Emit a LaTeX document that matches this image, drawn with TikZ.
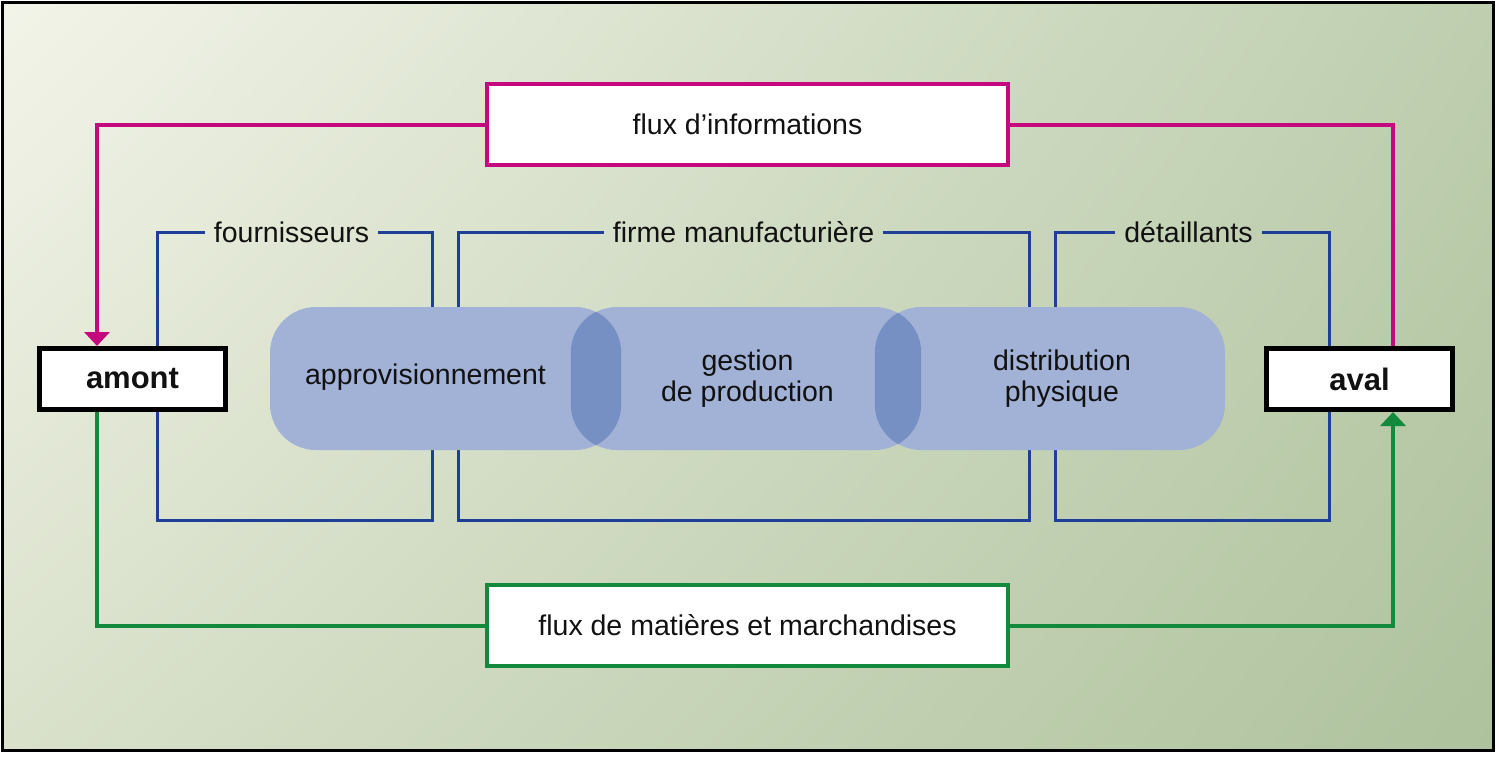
\documentclass[tikz,border=0pt]{standalone}
\usepackage{fontspec}
\setmainfont{Liberation Sans}
\usetikzlibrary{arrows.meta,shadings}
\definecolor{bgA}{HTML}{F3F4E9}
\definecolor{bgB}{HTML}{BECEAF}
\definecolor{bgC}{HTML}{D9E1CB}
\definecolor{bgD}{HTML}{AEC29D}
\definecolor{pinkL}{HTML}{C5087E}
\definecolor{blueL}{HTML}{1E3F97}
\definecolor{greenL}{HTML}{12893D}
\definecolor{lozC}{HTML}{A2B1D6}
\definecolor{lozD}{HTML}{7690C3}
\definecolor{txt}{HTML}{111111}
\newcommand{\fsz}{\fontsize{28.5}{31}\selectfont}
\tikzset{
  lbl/.style={font=\fsz, text=txt, inner xsep=9pt, inner ysep=0pt, text height=20pt, text depth=0pt},
  bline/.style={draw=blueL, line width=3pt},
  loz/.style={fill=lozC, rounded corners=46pt, minimum height=143pt, inner sep=0pt},
  loztxt/.style={font=\fsz, text=txt, align=center, inner sep=0pt},
  endbox/.style={draw=black, line width=5pt, fill=white, minimum width=186pt, minimum height=61pt, inner sep=0pt, font=\fontsize{31}{33}\selectfont\bfseries, text=txt},
  flowbox/.style={line width=4pt, fill=white, minimum width=521pt, minimum height=81pt, inner sep=0pt, font=\fsz, text=txt},
  pline/.style={draw=pinkL, line width=4pt},
  gline/.style={draw=greenL, line width=4pt},
  tip/.style={-{Triangle[width=25pt,length=14pt]}}
}
\begin{document}
\begin{tikzpicture}[x=1pt,y=-1pt]
\useasboundingbox (0,0) rectangle (1499,756);
\fill[white] (0,0) rectangle (1499,756);
\shade[upper left=bgA, upper right=bgB, lower left=bgC, lower right=bgD] (2,2) rectangle (1493,750);
\draw[black, line width=3pt] (2,2) rectangle (1493,750);

% bracket labels
\node[lbl] (fou) at (291.5,232) {fournisseurs};
\node[lbl] (fir) at (743.5,232) {firme manufacturière};
\node[lbl] (det) at (1188.5,232) {détaillants};

\coordinate (f1) at (157,232); \coordinate (f2) at (157,520);
\coordinate (f3) at (432,520); \coordinate (f4) at (432,232);
\coordinate (m1) at (458,232); \coordinate (m2) at (458,520);
\coordinate (m3) at (1029,520); \coordinate (m4) at (1029,232);
\coordinate (d1) at (1055,232); \coordinate (d2) at (1055,520);
\coordinate (d3) at (1329,520); \coordinate (d4) at (1329,232);

\draw[bline, line join=miter] (fou.west) -- (f1) -- (f2) -- (f3) -- (f4) -- (fou.east);
\draw[bline, line join=miter] (fir.west) -- (m1) -- (m2) -- (m3) -- (m4) -- (fir.east);
\draw[bline, line join=miter] (det.west) -- (d1) -- (d2) -- (d3) -- (d4) -- (det.east);

% lozenges
\node[loz, minimum width=351pt] (appro) at (445.5,378.5) {};
\node[loz, minimum width=350pt] (gest) at (746,378.5) {};
\node[loz, minimum width=350pt] (dist) at (1050,378.5) {};
\begin{scope}
  \clip[rounded corners=46pt] (appro.north west) rectangle (appro.south east);
  \fill[lozD, rounded corners=46pt] (gest.north west) rectangle (gest.south east);
\end{scope}
\begin{scope}
  \clip[rounded corners=46pt] (gest.north west) rectangle (gest.south east);
  \fill[lozD, rounded corners=46pt] (dist.north west) rectangle (dist.south east);
\end{scope}
\node[loztxt] (tappro) at ([xshift=-20pt,yshift=1pt]appro.center) {approvisionnement};
\node[loztxt] (tgest) at ([xshift=1.5pt]gest.center) {gestion\\de production};
\node[loztxt] (tdist) at ([xshift=12pt]dist.center) {distribution\\physique};

% end boxes
\node[endbox] (amont) at (132.5,379) {amont};
\node[endbox] (aval) at (1359.5,379) {aval};

% flow boxes
\node[flowbox, draw=pinkL] (info) at (747.5,124.5) {flux d’informations};
\node[flowbox, draw=greenL] (mat) at (747.5,625.5) {flux de matières et marchandises};

% connectors
\draw[pline, tip] (info.west) -| ([xshift=-35.5pt]amont.north);
\draw[pline] (info.east) -| ([xshift=33.5pt]aval.north);
\draw[gline] ([xshift=-35.5pt]amont.south) |- (mat.west);
\draw[gline, tip] (mat.east) -| ([xshift=33.5pt]aval.south);
\end{tikzpicture}
\end{document}
